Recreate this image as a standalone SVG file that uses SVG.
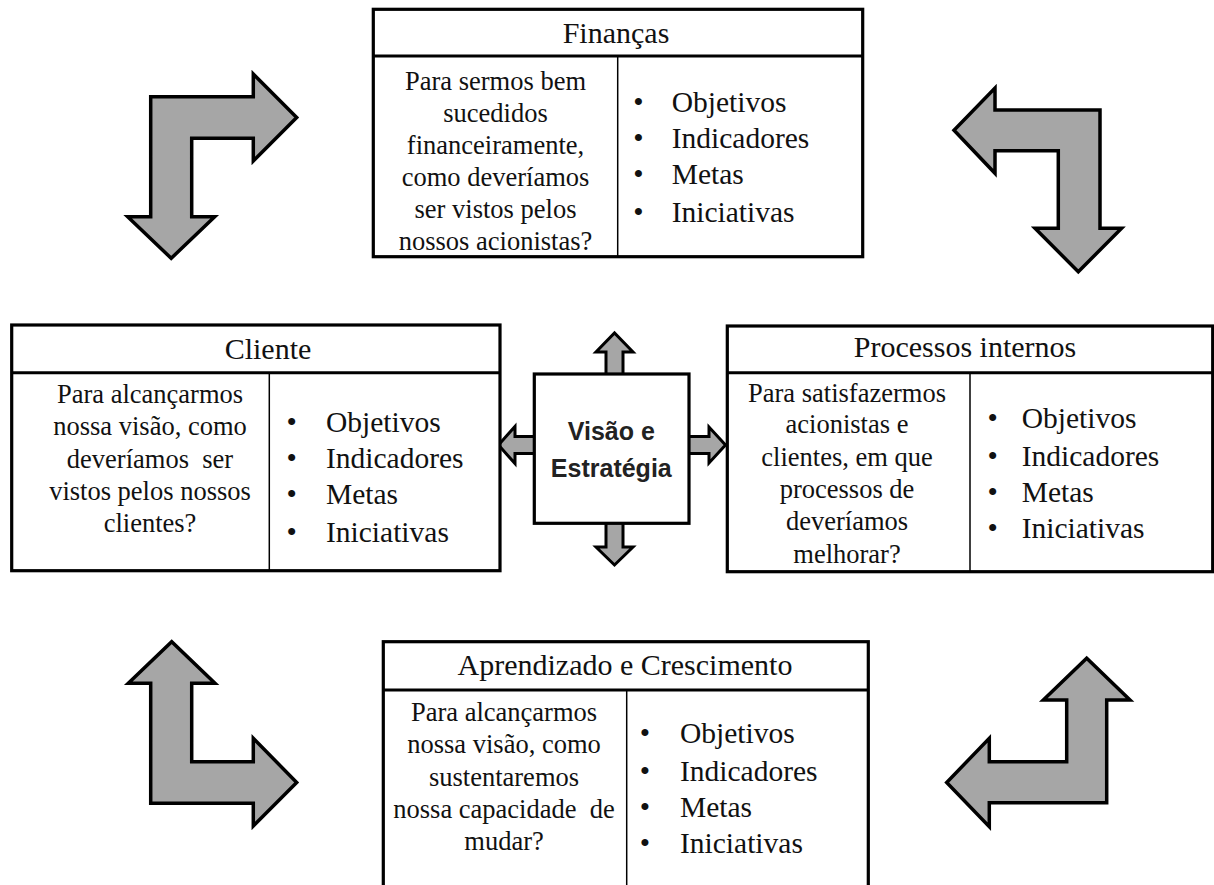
<svg xmlns="http://www.w3.org/2000/svg" width="1214" height="885" viewBox="0 0 1214 885">
  <style>
    .frame { fill: #ffffff; stroke: #000000; stroke-width: 3.2; }
    .rule { stroke: #000000; stroke-width: 3; fill: none; }
    .split { stroke: #000000; stroke-width: 1.5; fill: none; }
    .big { fill: #a6a6a6; stroke: #000000; stroke-width: 3.5; stroke-linejoin: miter; }
    .small { fill: #a6a6a6; stroke: #000000; stroke-width: 3; stroke-linejoin: miter; }
    .title { font-family: "Liberation Serif", "Times New Roman", serif; font-size: 30px; fill: #111; text-anchor: middle; }
    .q { font-family: "Liberation Serif", "Times New Roman", serif; font-size: 26.5px; fill: #111; text-anchor: middle; }
    .li { font-family: "Liberation Serif", "Times New Roman", serif; font-size: 29.5px; fill: #111; }
    .dot { font-family: "Liberation Serif", "Times New Roman", serif; font-size: 29.5px; fill: #111; text-anchor: middle; }
    .core { font-family: "Liberation Sans", Arial, sans-serif; font-weight: bold; font-size: 25px; fill: #222; text-anchor: middle; }
  </style>

  <!-- cycle arrows between the four perspectives -->
  <g id="connectors">
    <path class="big" d="M150.7,96.7 H253.3 V74 L296.7,117.5 L253.3,161 V138.3 H191.7 V216.7 H214.7 L171.2,258.3 L127.7,216.7 H150.7 Z"/>
    <path class="big" d="M1100,110 V228.3 H1121.6 L1078.3,271.7 L1035,228.3 H1058.3 V150.7 H995 V173.3 L954,130.3 L995,88 V110 Z"/>
    <path class="big" d="M150.7,803.3 V683.3 H128.3 L171.7,641.7 L215,683.3 H191.7 V761.7 H253.3 V738.3 L296.7,782.5 L253.3,826 V803.3 Z"/>
    <path class="big" d="M1106.7,802.7 H989.3 V826.7 L946.7,782.5 L989.3,738.3 V761.7 H1066.7 V700 H1043.3 L1086.7,658.3 L1130,700 H1106.7 Z"/>
    <!-- short arrows leaving the centre box -->
    <path class="small" d="M606,375 V352 H596 L614.5,333 L633,352 H623 V375 Z"/>
    <path class="small" d="M606,522 V547 H596 L614.5,565 L633,547 H623 V522 Z"/>
    <path class="small" d="M535,436.5 H515 V426.5 L498.5,445 L515,463.5 V453.5 H535 Z"/>
    <path class="small" d="M688,436.5 H709 V427 L725.5,445 L709,463 V453.5 H688 Z"/>
  </g>

  <!-- Finanças -->
  <g id="financas">
    <rect class="frame" x="373.3" y="9.3" width="489.4" height="247.4"/>
    <line class="rule" x1="373.3" y1="56" x2="862.7" y2="56"/>
    <line class="split" x1="617.7" y1="56" x2="617.7" y2="256.7"/>
    <text class="title" x="616" y="43">Finanças</text>
    <text class="q" x="495.5" y="90">Para sermos bem</text>
    <text class="q" x="495.5" y="122">sucedidos</text>
    <text class="q" x="495.5" y="154">financeiramente,</text>
    <text class="q" x="495.5" y="186">como deveríamos</text>
    <text class="q" x="495.5" y="218">ser vistos pelos</text>
    <text class="q" x="495.5" y="250">nossos acionistas?</text>
    <text class="dot" x="638.3" y="111.7">•</text>
    <text class="dot" x="638.3" y="147.7">•</text>
    <text class="dot" x="638.3" y="184.3">•</text>
    <text class="dot" x="638.3" y="221.7">•</text>
    <text class="li" x="671.7" y="111.7">Objetivos</text>
    <text class="li" x="671.7" y="147.7">Indicadores</text>
    <text class="li" x="671.7" y="184.3">Metas</text>
    <text class="li" x="671.7" y="221.7">Iniciativas</text>
  </g>

  <!-- Cliente -->
  <g id="cliente">
    <rect class="frame" x="11.7" y="325" width="488.3" height="245.7"/>
    <line class="rule" x1="11.7" y1="372.7" x2="500" y2="372.7"/>
    <line class="split" x1="269.3" y1="372.7" x2="269.3" y2="570.7"/>
    <text class="title" x="268" y="359.3">Cliente</text>
    <text class="q" x="150" y="403.3">Para alcançarmos</text>
    <text class="q" x="150" y="435.3">nossa visão, como</text>
    <text class="q" x="150" y="467.8" xml:space="preserve">deveríamos  ser</text>
    <text class="q" x="150" y="500">vistos pelos nossos</text>
    <text class="q" x="150" y="531.7">clientes?</text>
    <text class="dot" x="291.7" y="431.7">•</text>
    <text class="dot" x="291.7" y="467.7">•</text>
    <text class="dot" x="291.7" y="504.3">•</text>
    <text class="dot" x="291.7" y="541.7">•</text>
    <text class="li" x="326" y="431.7">Objetivos</text>
    <text class="li" x="326" y="467.7">Indicadores</text>
    <text class="li" x="326" y="504.3">Metas</text>
    <text class="li" x="326" y="541.7">Iniciativas</text>
  </g>

  <!-- Visão e Estratégia -->
  <g id="visao">
    <rect class="frame" x="534.3" y="374" width="154.7" height="149.3"/>
    <text class="core" x="611.3" y="440">Visão e</text>
    <text class="core" x="611.3" y="476.7">Estratégia</text>
  </g>

  <!-- Processos internos -->
  <g id="processos">
    <rect class="frame" x="727.3" y="326" width="485.4" height="245.7"/>
    <line class="rule" x1="727.3" y1="372.7" x2="1212.7" y2="372.7"/>
    <line class="split" x1="970" y1="372.7" x2="970" y2="571.7"/>
    <text class="title" x="965" y="357.3">Processos internos</text>
    <text class="q" x="847" y="401.7">Para satisfazermos</text>
    <text class="q" x="847" y="433.3">acionistas e</text>
    <text class="q" x="847" y="466.3">clientes, em que</text>
    <text class="q" x="847" y="498.3">processos de</text>
    <text class="q" x="847" y="530">deveríamos</text>
    <text class="q" x="847" y="562.7">melhorar?</text>
    <text class="dot" x="992.7" y="428.3">•</text>
    <text class="dot" x="992.7" y="465.7">•</text>
    <text class="dot" x="992.7" y="501.7">•</text>
    <text class="dot" x="992.7" y="538.3">•</text>
    <text class="li" x="1021.7" y="428.3">Objetivos</text>
    <text class="li" x="1021.7" y="465.7">Indicadores</text>
    <text class="li" x="1021.7" y="501.7">Metas</text>
    <text class="li" x="1021.7" y="538.3">Iniciativas</text>
  </g>

  <!-- Aprendizado e Crescimento (runs past the lower edge) -->
  <g id="aprendizado">
    <rect class="frame" x="383.3" y="641.7" width="485" height="270"/>
    <line class="rule" x1="383.3" y1="690" x2="868.3" y2="690"/>
    <line class="split" x1="626.7" y1="690" x2="626.7" y2="900"/>
    <text class="title" x="625" y="675">Aprendizado e Crescimento</text>
    <text class="q" x="504" y="720.7">Para alcançarmos</text>
    <text class="q" x="504" y="753.3">nossa visão, como</text>
    <text class="q" x="504" y="786">sustentaremos</text>
    <text class="q" x="504" y="818.3" xml:space="preserve">nossa capacidade  de</text>
    <text class="q" x="504" y="850">mudar?</text>
    <text class="dot" x="645" y="743.3">•</text>
    <text class="dot" x="645" y="780.7">•</text>
    <text class="dot" x="645" y="817.3">•</text>
    <text class="dot" x="645" y="853.3">•</text>
    <text class="li" x="680" y="743.3">Objetivos</text>
    <text class="li" x="680" y="780.7">Indicadores</text>
    <text class="li" x="680" y="817.3">Metas</text>
    <text class="li" x="680" y="853.3">Iniciativas</text>
  </g>
</svg>
